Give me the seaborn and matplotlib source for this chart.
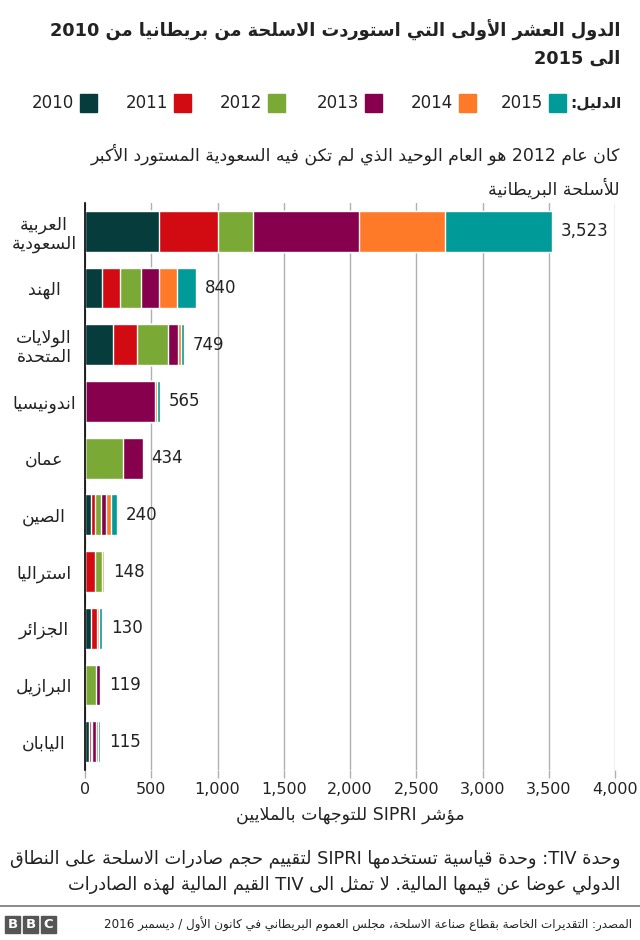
import re
import numpy as np
import pandas as pd
import matplotlib
matplotlib.use("Agg")
import matplotlib.pyplot as plt
import seaborn as sns

# ---- data ----
countries = ["العربية\nالسعودية", "الهند", "الولايات\nالمتحدة", "اندونيسيا", "عمان",
             "الصين", "استراليا", "الجزائر", "البرازيل", "اليابان"]
years = ["2010", "2011", "2012", "2013", "2014", "2015"]
v2010 = [560, 126, 215, 0, 0, 42, 0, 48, 0, 32]
v2011 = [445, 136, 175, 0, 0, 37, 76, 42, 0, 13]
v2012 = [265, 160, 235, 0, 287, 40, 56, 0, 80, 9]
v2013 = [795, 137, 75, 525, 147, 39, 0, 0, 32, 27]
v2014 = [655, 136, 25, 20, 0, 40, 11, 12, 7, 18]
v2015 = [803, 145, 24, 20, 0, 42, 5, 28, 0, 16]
totals = [3523, 840, 749, 565, 434, 240, 148, 130, 119, 115]
colors = ["#063d3c", "#d20a11", "#7aaa35", "#86004e", "#fe7a28", "#009a98"]
xticks = [0, 500, 1000, 1500, 2000, 2500, 3000, 3500, 4000]

title = "الدول العشر الأولى التي استوردت الاسلحة من بريطانيا من 2010\nالى 2015"
subtitle = "كان عام 2012 هو العام الوحيد الذي لم تكن فيه السعودية المستورد الأكبر\nللأسلحة البريطانية"
legend_title = "الدليل:"
xlabel = "مؤشر SIPRI للتوجهات بالملايين"
note = ("وحدة TIV: وحدة قياسية تستخدمها SIPRI لتقييم حجم صادرات الاسلحة على النطاق\n"
        "الدولي عوضا عن قيمها المالية. لا تمثل الى TIV القيم المالية لهذه الصادرات")
source = "المصدر: التقديرات الخاصة بقطاع صناعة الاسلحة، مجلس العموم البريطاني في كانون الأول / ديسمبر 2016"

# ---- minimal arabic shaping (matplotlib has no bidi / joining) ----
FORMS = {
    'ء': (0xFE80, 0), 'آ': (0xFE81, 2), 'أ': (0xFE83, 2), 'ؤ': (0xFE85, 2), 'إ': (0xFE87, 2),
    'ئ': (0xFE89, 4), 'ا': (0xFE8D, 2), 'ب': (0xFE8F, 4), 'ة': (0xFE93, 2), 'ت': (0xFE95, 4),
    'ث': (0xFE99, 4), 'ج': (0xFE9D, 4), 'ح': (0xFEA1, 4), 'خ': (0xFEA5, 4), 'د': (0xFEA9, 2),
    'ذ': (0xFEAB, 2), 'ر': (0xFEAD, 2), 'ز': (0xFEAF, 2), 'س': (0xFEB1, 4), 'ش': (0xFEB5, 4),
    'ص': (0xFEB9, 4), 'ض': (0xFEBD, 4), 'ط': (0xFEC1, 4), 'ظ': (0xFEC5, 4), 'ع': (0xFEC9, 4),
    'غ': (0xFECD, 4), 'ف': (0xFED1, 4), 'ق': (0xFED5, 4), 'ك': (0xFED9, 4), 'ل': (0xFEDD, 4),
    'م': (0xFEE1, 4), 'ن': (0xFEE5, 4), 'ه': (0xFEE9, 4), 'و': (0xFEED, 2), 'ى': (0xFEEF, 2),
    'ي': (0xFEF1, 4),
}
LAM_ALEF = {'لآ': 0xFEF5, 'لأ': 0xFEF7, 'لإ': 0xFEF9, 'لا': 0xFEFB}
for code in LAM_ALEF.values():
    FORMS[chr(code)] = (code, 2)


def shape(s):
    for k, v in LAM_ALEF.items():
        s = s.replace(k, chr(v))
    out = []
    for i, c in enumerate(s):
        if c not in FORMS:
            out.append(c)
            continue
        base, n = FORMS[c]
        prev = s[i - 1] if i > 0 else ''
        nxt = s[i + 1] if i + 1 < len(s) else ''
        jp = n > 0 and prev in FORMS and FORMS[prev][1] == 4
        jn = n == 4 and nxt in FORMS and FORMS[nxt][1] > 0
        form = 3 if (jp and jn) else 2 if jn else 1 if jp else 0
        out.append(chr(base + form))
    return ''.join(out)


def ar(text):
    lines = []
    for line in text.split('\n'):
        toks = re.findall(r'[A-Za-z0-9]+(?:[,.][0-9]+)*|.', shape(line))
        lines.append(''.join(reversed(toks)))
    return '\n'.join(lines)


# ---- table ----
df = pd.DataFrame({"country": countries, "2010": v2010, "2011": v2011, "2012": v2012,
                   "2013": v2013, "2014": v2014, "2015": v2015})
cum = df[years].cumsum(axis=1)

sns.set_theme(style="white")
plt.rcParams['font.family'] = ['DejaVu Sans']

W, H = 640, 940
fig = plt.figure(figsize=(6.4, 9.4), dpi=100)
ax = fig.add_axes([85 / W, 1 - 770 / H, 530 / W, 567 / H])

# stacked bars: draw cumulative totals from last year to first
for yr, col in zip(years[::-1], colors[::-1]):
    sns.barplot(x=cum[yr], y=df["country"], color=col, orient="h", width=0.72,
                saturation=1, ax=ax, zorder=3)

ax.set_xlim(0, 4000)
ax.set_ylim(9.5, -0.5)
ax.set_xticks(xticks)
ax.set_xticklabels([f"{t:,}" for t in xticks], fontsize=11.5, color="#222222")
ax.grid(axis="x", color="#b0b0b0", lw=1, zorder=0)
ax.grid(axis="y", visible=False)
for s in ["top", "right", "bottom"]:
    ax.spines[s].set_visible(False)
ax.spines["left"].set_color("black")
ax.spines["left"].set_linewidth(1.2)
ax.spines["left"].set_zorder(5)
ax.tick_params(axis="x", length=6, width=1, color="#b0b0b0", pad=3, bottom=True)
ax.xaxis.get_major_ticks()[0].tick1line.set_color("black")
ax.tick_params(axis="y", length=0, pad=29.5)
ax.set_yticks(range(len(countries)))
ax.set_yticklabels([ar(c) for c in countries], fontsize=12.5, ha="center",
                   multialignment="center", color="#222222", linespacing=1.1)
ax.set_xlabel(ar(xlabel), fontsize=12.5, color="#222222", labelpad=6)
ax.set_ylabel("")

for i, t in enumerate(totals):
    ax.text(t + 65, i, f"{t:,}", va="center", ha="left", fontsize=12, color="#222222")

# ---- header ----
fig.text(620 / W, 1 - 44 / H, ar(title), ha="right", va="center", fontsize=12.8,
         fontweight="bold", color="#222222", linespacing=1.65)
fig.text(621 / W, 1 - 103 / H, ar(legend_title), ha="right", va="center", fontsize=11,
         fontweight="bold", color="#222222")
sq_x = [80, 174, 268, 365, 459, 549]
for yr, col, x0 in zip(years, colors, sq_x):
    fig.patches.append(plt.Rectangle((x0 / W, 1 - 112 / H), 17 / W, 18 / H,
                                     transform=fig.transFigure, color=col, figure=fig))
    fig.text((x0 - 6) / W, 1 - 103 / H, yr, ha="right", va="center", fontsize=12,
             color="#222222")
fig.text(620 / W, 1 - 171 / H, ar(subtitle), ha="right", va="center", fontsize=12.5,
         color="#222222", linespacing=1.7)

# ---- footer ----
fig.text(620 / W, 1 - 872 / H, ar(note), ha="right", va="center", fontsize=12.8,
         color="#222222", linespacing=1.55)
fig.add_artist(plt.Line2D([0, 1], [1 - 906 / H, 1 - 906 / H], color="#777777", lw=1.2,
                          transform=fig.transFigure))
for k, letter in enumerate("BBC"):
    x0 = 5 + k * 18
    fig.patches.append(plt.Rectangle((x0 / W, 1 - 933 / H), 15 / W, 17 / H,
                                     transform=fig.transFigure, color="#555555", figure=fig))
    fig.text((x0 + 7.5) / W, 1 - 924.5 / H, letter, ha="center", va="center",
             fontsize=9.5, fontweight="bold", color="white")
fig.text(632 / W, 1 - 924 / H, ar(source), ha="right", va="center", fontsize=8.6,
         color="#222222")

fig.savefig("out.png", dpi=100, facecolor="white")
